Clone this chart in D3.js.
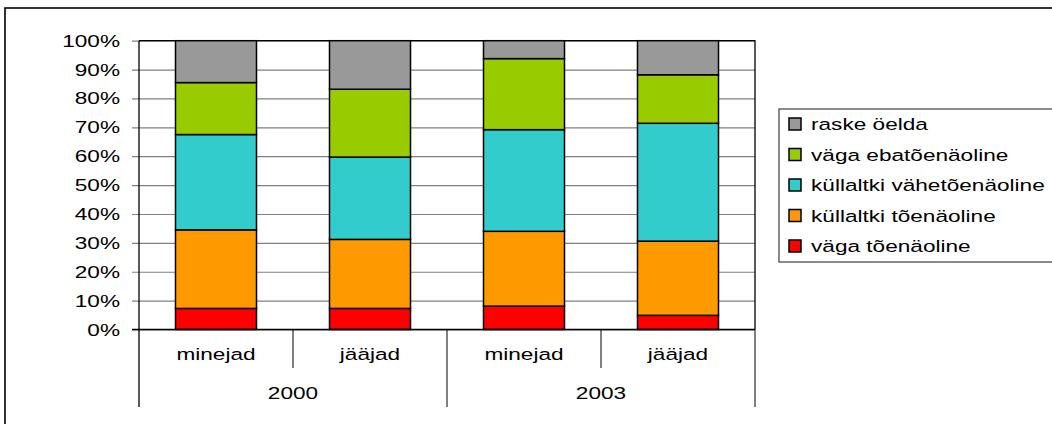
<!DOCTYPE html>
<html><head><meta charset="utf-8">
<script src="https://cdn.jsdelivr.net/npm/d3@7"></script>
<style>body{margin:0;background:#fff}svg{display:block}text{font-family:"Liberation Sans",Arial,sans-serif;fill:#000}</style>
</head><body><svg id="c" width="1052" height="424"></svg>
<script>
const categories = ["minejad","jääjad","minejad","jääjad"];
const years = ["2000","2003"];
const seriesNames = ["väga tõenäoline","küllaltki tõenäoline","küllaltki vähetõenäoline","väga ebatõenäoline","raske öelda"];
const seriesColors = ["#FF0000","#FF9900","#33CCCC","#99CC00","#999999"];
const vagaToenaoline = [7.3, 7.3, 8.1, 4.9];
const kullaltkiToenaoline = [27.2, 23.9, 25.9, 25.7];
const kullaltkiVahetoenaoline = [33.0, 28.5, 35.2, 40.8];
const vagaEbatoenaoline = [18.0, 23.5, 24.6, 16.8];
const raskeOelda = [14.5, 16.8, 6.2, 11.8];
const yTicks = [0,10,20,30,40,50,60,70,80,90,100];

const seriesVals = [vagaToenaoline, kullaltkiToenaoline, kullaltkiVahetoenaoline, vagaEbatoenaoline, raskeOelda];
const rows = categories.map((c,i)=>{const o={key:i}; seriesNames.forEach((s,j)=>o[s]=seriesVals[j][i]); return o;});
const stacked = d3.stack().keys(seriesNames)(rows);

const svg = d3.select("#c");
const L=139, R=755, T=40.7, B=329.5;
const SX=1.33, FS=17;

// outer frame
svg.append("rect").attr("x",5).attr("y",8).attr("width",1100).attr("height",500)
  .attr("fill","none").attr("stroke","#000").attr("stroke-width",1.6);

const x = d3.scaleBand().domain(d3.range(categories.length)).range([L,R]).paddingInner(0.474).paddingOuter(0.237);
const y = d3.scaleLinear().domain([0,100]).range([B,T]);

function stext(xp, yp, str, anchor){
  svg.append("text").attr("transform",`translate(${xp},${yp}) scale(${SX},1)`)
    .attr("text-anchor",anchor).attr("font-size",FS).text(str);
}

// gridlines + ticks
const yAxis = d3.axisLeft(y).tickValues(yTicks).tickSize(-(R-L)).tickFormat("");
const ga = svg.append("g").attr("transform",`translate(${L},0)`).call(yAxis);
ga.select(".domain").remove();
ga.selectAll(".tick line").attr("stroke","#808080").attr("stroke-width",1.2).attr("x1",-7);
yTicks.forEach(t=>stext(120, y(t)+6, t+"%", "end"));

// plot border (top, right)
svg.append("path").attr("d",`M${L},${T}H${R}V${B}`).attr("fill","none").attr("stroke","#000").attr("stroke-width",1.3);

// bars
svg.append("g").selectAll("g").data(stacked).join("g").attr("fill",(d,i)=>seriesColors[i])
  .selectAll("rect").data(d=>d).join("rect")
  .attr("x",(d,i)=>x(i)).attr("width",x.bandwidth())
  .attr("y",d=>y(d[1])).attr("height",d=>y(d[0])-y(d[1]))
  .attr("stroke","#000").attr("stroke-width",1.5);

// axes lines
svg.append("line").attr("x1",L).attr("x2",L).attr("y1",T).attr("y2",407).attr("stroke","#000").attr("stroke-width",1.3);
svg.append("line").attr("x1",132).attr("x2",R).attr("y1",B).attr("y2",B).attr("stroke","#000").attr("stroke-width",1.3);
const step = x.step();
categories.forEach((c,i)=>{
  const xr = L + step*(i+1);
  const long = (i%2===1);
  svg.append("line").attr("x1",xr).attr("x2",xr).attr("y1",B).attr("y2",long?407:368).attr("stroke","#000").attr("stroke-width",1);
  stext(x(i)+x.bandwidth()/2, 360, c, "middle");
});
years.forEach((yr,k)=>stext(L + step*(2*k+1), 399, yr, "middle"));

// legend
svg.append("rect").attr("x",779).attr("y",109).attr("width",300).attr("height",153)
  .attr("fill","#fff").attr("stroke","#404040").attr("stroke-width",1.2);
const legOrder = d3.range(seriesNames.length).reverse();
legOrder.forEach((si,r)=>{
  const cy = 124 + r*30.5;
  svg.append("rect").attr("x",789).attr("y",cy-6).attr("width",12).attr("height",12)
    .attr("fill",seriesColors[si]).attr("stroke","#000").attr("stroke-width",1.5);
  stext(811, cy+6, seriesNames[si], "start");
});
</script></body></html>
